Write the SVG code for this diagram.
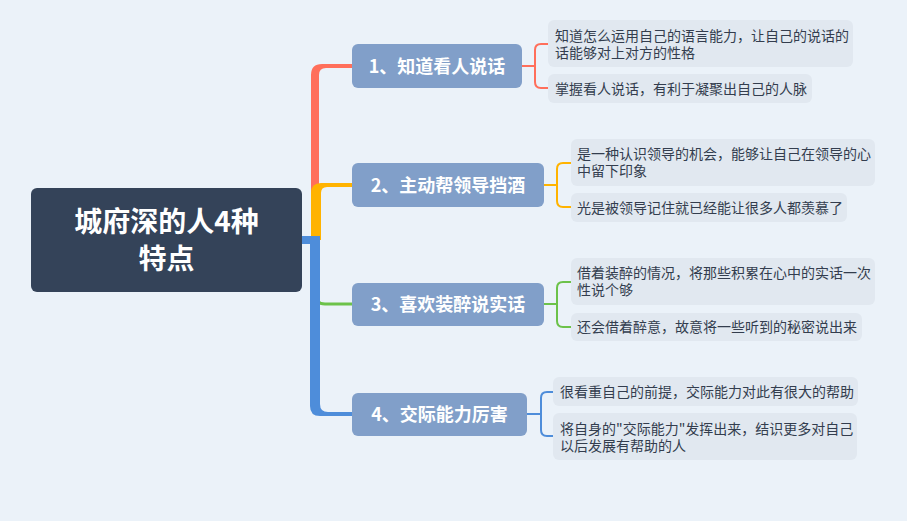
<svg xmlns="http://www.w3.org/2000/svg" width="907" height="521" viewBox="0 0 907 521">
<style>
.root{fill:#344359}
.rt{font-family:"Noto Sans CJK SC","Noto Sans",sans-serif;font-weight:bold;font-size:28px;fill:#ffffff;text-anchor:middle}
.node{fill:#819FC9}
.nt{font-family:"Noto Sans CJK SC","Noto Sans",sans-serif;font-weight:bold;font-size:18px;fill:#ffffff;text-anchor:middle}
.leaf{fill:#E1E8F0}
.lt{font-family:"Noto Sans CJK SC","Noto Sans",sans-serif;font-size:14px;fill:#333D4E}
.br{fill:none;stroke-width:2;stroke-linecap:round}
</style>
<rect width="907" height="521" fill="#EBF2F9"/>
<g id="connectors">
  <path fill="#FF6F5B" d="M311 240 L311 75 Q311 64 322 64 L352 64 L352 68 L326 68 Q319 68 319 75 L319 240 Z"/>
  <path fill="#FFB300" d="M311 240 L311 193 Q311 183 321 183 L352 183 L352 187 L327 187 Q321 187 321 193 L321 240 Z"/>
  <path fill="none" stroke="#6CC24A" stroke-width="3" d="M315 294 Q315 304 325 304 L352 304"/>
  <path fill="#4E8DDA" d="M302 236 L320 236 L320 404 Q320 412 328 412 L352 412 L352 416 L320 416 Q310 416 310 406 L310 244 L302 244 Z"/>
  <path class="br" stroke="#FF6F5B" d="M522 66 L535 66 M548 44 L541 44 Q535 44 535 50 L535 82 Q535 88 541 88 L548 88"/>
  <path class="br" stroke="#FFB300" d="M544 185 L557 185 M571 163 L563 163 Q557 163 557 169 L557 201 Q557 207 563 207 L571 207"/>
  <path class="br" stroke="#6CC24A" d="M544 304 L557 304 M571 282 L563 282 Q557 282 557 288 L557 321 Q557 327 563 327 L571 327"/>
  <path class="br" stroke="#4E8DDA" d="M527 414 L541 414 M553 392 L547 392 Q541 392 541 398 L541 430 Q541 436 547 436 L553 436"/>
</g>
<g id="root">
  <rect class="root" x="31" y="188" width="271" height="104" rx="6"/>
  <text class="rt" x="166.5" y="232">城府深的人4种<tspan x="166.5" dy="37">特点</tspan></text>
</g>
<g id="n1">
  <rect class="node" x="352" y="44" width="170" height="44" rx="6"/>
  <text class="nt" x="437" y="72.5">1、知道看人说话</text>
</g>
<g id="n2">
  <rect class="node" x="352" y="163" width="192" height="44" rx="6"/>
  <text class="nt" x="448" y="191.5">2、主动帮领导挡酒</text>
</g>
<g id="n3">
  <rect class="node" x="352" y="283" width="192" height="43" rx="6"/>
  <text class="nt" x="448" y="311">3、喜欢装醉说实话</text>
</g>
<g id="n4">
  <rect class="node" x="352" y="393" width="175" height="43" rx="6"/>
  <text class="nt" x="439.5" y="421">4、交际能力厉害</text>
</g>
<g id="l1">
  <rect class="leaf" x="548" y="20" width="305" height="47" rx="6"/>
  <text class="lt" x="555" y="40.5">知道怎么运用自己的语言能力，让自己的说话的<tspan x="555" dy="17">话能够对上对方的性格</tspan></text>
</g>
<g id="l2">
  <rect class="leaf" x="548" y="74" width="264" height="29" rx="6"/>
  <text class="lt" x="555" y="93.5">掌握看人说话，有利于凝聚出自己的人脉</text>
</g>
<g id="l3">
  <rect class="leaf" x="571" y="139" width="304" height="47" rx="6"/>
  <text class="lt" x="577" y="158.5">是一种认识领导的机会，能够让自己在领导的心<tspan x="577" dy="17">中留下印象</tspan></text>
</g>
<g id="l4">
  <rect class="leaf" x="571" y="193" width="276" height="29" rx="6"/>
  <text class="lt" x="577" y="212.5">光是被领导记住就已经能让很多人都羡慕了</text>
</g>
<g id="l5">
  <rect class="leaf" x="571" y="258" width="304" height="47" rx="6"/>
  <text class="lt" x="577" y="278">借着装醉的情况，将那些积累在心中的实话一次<tspan x="577" dy="17">性说个够</tspan></text>
</g>
<g id="l6">
  <rect class="leaf" x="571" y="313" width="291" height="28" rx="6"/>
  <text class="lt" x="577" y="332">还会借着醉意，故意将一些听到的秘密说出来</text>
</g>
<g id="l7">
  <rect class="leaf" x="553" y="377" width="305" height="29" rx="6"/>
  <text class="lt" x="560" y="396.5">很看重自己的前提，交际能力对此有很大的帮助</text>
</g>
<g id="l8">
  <rect class="leaf" x="553" y="413" width="304" height="47" rx="6"/>
  <text class="lt" x="560" y="433.5">将自身的&quot;交际能力&quot;发挥出来，结识更多对自己<tspan x="560" dy="17">以后发展有帮助的人</tspan></text>
</g>
</svg>
